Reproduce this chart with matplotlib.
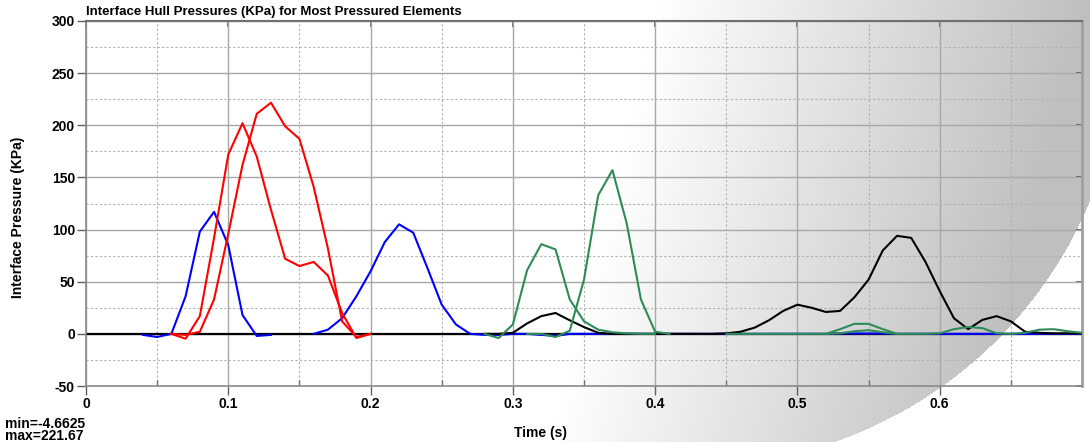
import numpy as np
import matplotlib
matplotlib.use("Agg")
import matplotlib.pyplot as plt
from matplotlib.ticker import MultipleLocator

plt.rcParams['font.family'] = ['Liberation Sans', 'DejaVu Sans']

W, H = 1090, 442
STEP = 0.01  # sample interval of the traces (s)

# each trace: start time, then one value per 0.01 s
red1_t0 = 0.06
red1 = [0, -4.66, 17, 92, 172, 202, 170, 119, 72, 65, 69, 56, 20, -4, 0]
red2_t0 = 0.06
red2 = [0, -1, 2, 33, 96, 162, 211, 221.67, 199, 187, 141, 82, 12, -3, 0]

blue1_t0 = 0.04
blue1 = [-1, -3, 0, 36, 98, 117, 85, 18, -2, -1]
blue2_t0 = 0.16
blue2 = [0, 4, 15, 36, 60, 88, 105, 97, 63, 28, 9, 0, -1, -1, 0, 0, -1, -2, 0, 0, 0, 0,
         0, 0, 0, 0, 0, 0, 0, 0, 0, 0, 0, 0, 0, 0, 0, 0.4, 0.4, 0.4, 0.4, 0,
         0, 0, 0, 0, 0, 0, 0, 0, 0, 0, 0, 0, 0]

black_t0 = 0.28
black = [0, 0, 1, 10, 17, 20, 13, 6.5, 1, 0, 0, 0, 0, 0, 0, 0, 0,
         0.5, 2, 6, 13, 22, 28, 25, 21, 22, 35, 52, 80, 94, 92, 69, 41, 15, 4.5,
         13.4, 17, 12, 2, 1, 0.5, 0.5, 0.5]

green1_t0 = 0.28
green1 = [0, -4, 9, 61, 86, 81, 33, 12, 4, 1.5, 0.5, 0, 0]
green2_t0 = 0.31
green2 = [0, 0, -3, 3, 52, 133, 157, 106, 33, 2, 0]
green3_t0 = 0.45
green3 = [0, 0, 0, 0, 0, 0, 0, 0, 4.5, 9.6, 9.6, 4.5, 0, 0, 0, 0.5, 4.5, 6.6,
          5.5, 0.5, 0, 1, 4, 4.5, 2.5, 1]
green4_t0 = 0.52
green4 = [0, 0.5, 2.5, 3.5, 1.5, 0]

x_ticks = [0, 0.1, 0.2, 0.3, 0.4, 0.5, 0.6]
x_labels = ['0', '0.1', '0.2', '0.3', '0.4', '0.5', '0.6']
y_ticks = [-50, 0, 50, 100, 150, 200, 250, 300]

RED = '#ff0000'
BLUE = '#0000ff'
GREEN = '#2e8b57'


def times(t0, vals):
    return t0 + STEP * np.arange(len(vals))


fig = plt.figure(figsize=(W / 100, H / 100), dpi=100)

# grey shaded disc in the background, fading to white towards the left
yy, xx = np.mgrid[0:H, 0:W] + 0.5
inside = (xx - 693) ** 2 + (yy - 36) ** 2 < 430 ** 2
p = xx + 0.25 * yy
shade = 1 - 0.25 * np.clip((p - 660) / 430, 0, 1)
v = np.where(inside, shade, 1.0)
bg = np.dstack([v, v, v])
ax_bg = fig.add_axes([0, 0, 1, 1])
ax_bg.imshow(bg, origin='upper', extent=(0, W, H, 0), aspect='auto',
             interpolation='nearest')
ax_bg.set_xlim(0, W)
ax_bg.set_ylim(H, 0)
ax_bg.axis('off')
ax_bg.set_zorder(-1)

ax = fig.add_axes([86 / W, 1 - 386 / H, (1082 - 86) / W, (386 - 21) / H])
ax.set_facecolor('none')
ax.set_zorder(1)

ax.axhline(0, color='black', lw=1.6, zorder=2)
lw = 1.5
ax.plot(times(blue1_t0, blue1), blue1, color=BLUE, lw=lw, zorder=3)
ax.plot(times(blue2_t0, blue2), blue2, color=BLUE, lw=lw, zorder=3)
ax.plot(times(red1_t0, red1), red1, color=RED, lw=lw, zorder=3)
ax.plot(times(red2_t0, red2), red2, color=RED, lw=lw, zorder=3)
ax.plot(times(black_t0, black), black, color='black', lw=lw, zorder=3)
ax.plot(times(green1_t0, green1), green1, color=GREEN, lw=lw, zorder=3)
ax.plot(times(green2_t0, green2), green2, color=GREEN, lw=lw, zorder=3)
ax.plot(times(green3_t0, green3), green3, color=GREEN, lw=lw, zorder=3)
ax.plot(times(green4_t0, green4), green4, color=GREEN, lw=lw, zorder=3)

ax.set_xlim(0, 0.7)
ax.set_ylim(-50, 300)
ax.set_xticks(x_ticks)
ax.set_xticklabels(x_labels)
ax.set_yticks(y_ticks)
ax.set_yticklabels([str(t) for t in y_ticks])
ax.xaxis.set_minor_locator(MultipleLocator(0.05))
ax.yaxis.set_minor_locator(MultipleLocator(25))

ax.grid(which='major', color='#a8a8a8', lw=1.0, ls='-', zorder=1)
ax.grid(which='minor', color='#b0b0b0', lw=0.8, ls=(0, (2, 2)), zorder=1)
ax.set_axisbelow(True)

ax.tick_params(which='major', direction='out', length=6.5, width=1, color='#606060',
               labelsize=10, pad=1.5)
ax.tick_params(axis='x', which='minor', direction='in', length=4.5, width=1,
               color='#707070')
ax.tick_params(axis='y', which='minor', length=0)
for lab in ax.get_xticklabels() + ax.get_yticklabels():
    lab.set_fontweight('bold')

for side in ['left', 'bottom']:
    ax.spines[side].set_color('#8a8a8a')
    ax.spines[side].set_linewidth(1.2)
ax.spines['top'].set_color('#707070')
ax.spines['top'].set_linewidth(1.5)
ax.spines['right'].set_color('#a0a0a0')
ax.spines['right'].set_linewidth(2)

# inward ticks on the top and right edges
top = ax.secondary_xaxis('top')
top.set_xticks(x_ticks)
top.tick_params(direction='in', length=4.5, width=1.2, color='#505050', labeltop=False)
top.spines['top'].set_visible(False)
right = ax.secondary_yaxis('right')
right.set_yticks(y_ticks)
right.tick_params(direction='in', length=4.5, width=1.2, color='#505050', labelright=False)
right.spines['right'].set_visible(False)

fig.text(86 / W, 1 - 15 / H, 'Interface Hull Pressures (KPa) for Most Pressured Elements',
         fontsize=9.5, fontweight='bold', ha='left', va='baseline')
fig.text(18 / W, 1 - 217 / H, 'Interface Pressure (KPa)', fontsize=10, fontweight='bold',
         rotation=90, ha='center', va='center')
fig.text(540 / W, 1 - 437 / H, 'Time (s)', fontsize=10, fontweight='bold',
         ha='center', va='baseline')
fig.text(5 / W, 1 - 428 / H, 'min=-4.6625', fontsize=10, fontweight='bold',
         ha='left', va='baseline')
fig.text(5 / W, 1 - 440.5 / H, 'max=221.67', fontsize=10, fontweight='bold',
         ha='left', va='baseline')

fig.savefig('out.png', dpi=100)
